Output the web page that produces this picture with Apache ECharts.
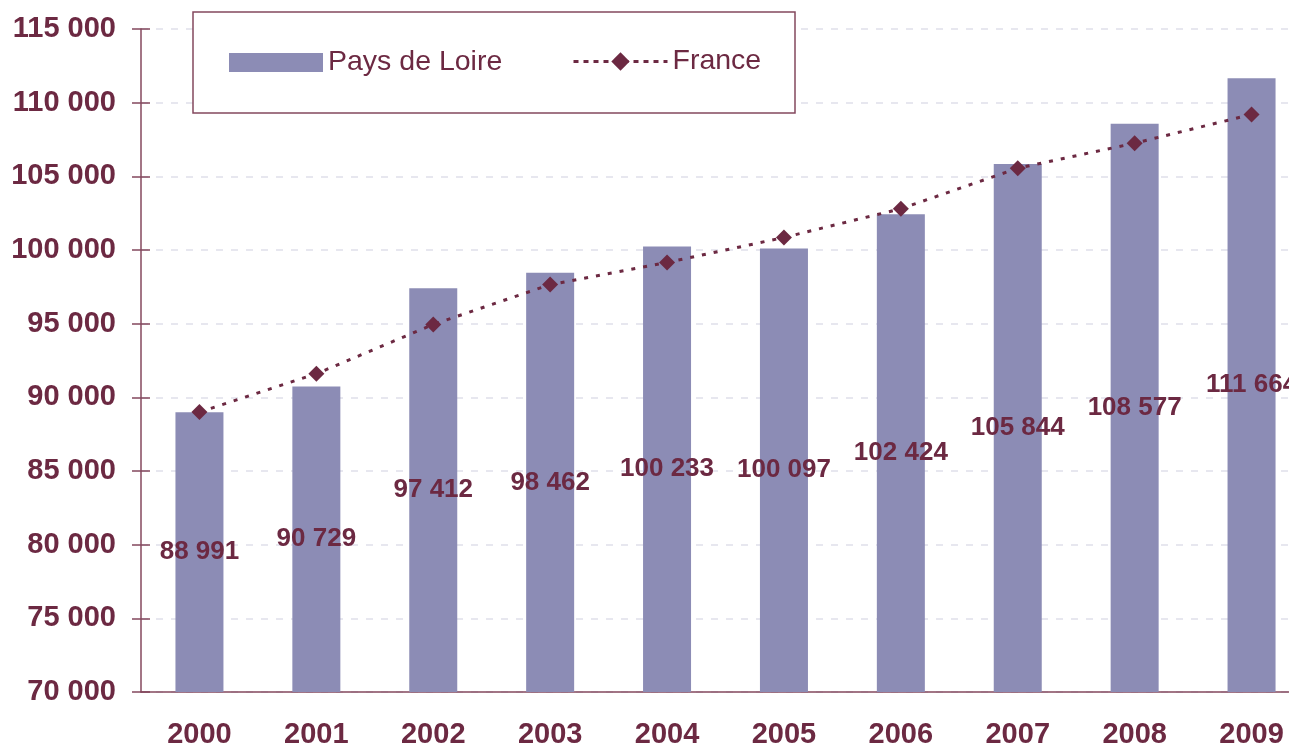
<!DOCTYPE html>
<html>
<head>
<meta charset="utf-8">
<script src="https://cdn.jsdelivr.net/npm/echarts@6/dist/echarts.min.js"></script>
<style>
  html, body { margin: 0; padding: 0; background: #fff; }
  #chart { width: 1289px; height: 747px; }
</style>
</head>
<body>
<div id="chart"></div>
<script>
const years = ["2000", "2001", "2002", "2003", "2004", "2005", "2006", "2007", "2008", "2009"];
const paysDeLoire = [88991, 90729, 97412, 98462, 100233, 100097, 102424, 105844, 108577, 111664];
const france = [89000, 91600, 94950, 97650, 99150, 100850, 102800, 105550, 107250, 109200];
const yMin = 70000;
const yMax = 115000;
const yStep = 5000;

const maroon = "#6c2942";
const axisCol = "#84485e";

function spaced(v) {
  return String(v).replace(/\B(?=(\d{3})+(?!\d))/g, " ");
}

let myChart = echarts.init(document.getElementById("chart"));
myChart.setOption({
  animation: false,
  textStyle: { fontFamily: "Liberation Sans, Arial, sans-serif" },
  grid: { left: 141, right: -21, top: 29, bottom: 55, outerBoundsMode: "none" },
  graphic: [
    {
      type: "rect",
      z: 3,
      shape: { x: 193, y: 12, width: 602, height: 101 },
      style: { fill: "#fff", stroke: axisCol, lineWidth: 1.5 }
    }
  ],
  legend: [
    {
      left: 229,
      top: 48,
      padding: 0,
      itemWidth: 94,
      itemHeight: 19,
      textStyle: { color: maroon, fontSize: 28.5 },
      data: [{ name: "Pays de Loire", icon: "rect" }]
    },
    {
      left: 572,
      top: 47,
      padding: 0,
      itemWidth: 94,
      itemHeight: 23,
      lineStyle: { width: 3, type: [5, 5] },
      textStyle: { color: maroon, fontSize: 28.5 },
      data: ["France"]
    }
  ],
  xAxis: [
    {
      type: "category",
      data: years,
      axisLine: { lineStyle: { color: axisCol, width: 1.5 } },
      axisTick: { length: 9, lineStyle: { color: axisCol, width: 1.5 } },
      axisLabel: { color: maroon, fontSize: 29, fontWeight: "bold", margin: 28 }
    },
    {
      type: "category",
      data: years,
      position: "bottom",
      axisLine: { show: false },
      axisTick: { inside: true, length: 9, lineStyle: { color: axisCol, width: 1.5 } },
      axisLabel: { show: false }
    }
  ],
  yAxis: [
    {
      type: "value",
      min: yMin,
      max: yMax,
      interval: yStep,
      axisLine: { show: true, lineStyle: { color: axisCol, width: 1.5 } },
      axisTick: { show: true, length: 9, lineStyle: { color: axisCol, width: 1.5 } },
      axisLabel: { color: maroon, fontSize: 29, fontWeight: "bold", margin: 25, formatter: spaced },
      splitLine: { lineStyle: { color: "#dfdfea", width: 1.5, type: [7, 8] } }
    },
    {
      type: "value",
      min: yMin,
      max: yMax,
      interval: yStep,
      position: "left",
      axisLine: { show: false },
      axisTick: { show: true, inside: true, length: 9, lineStyle: { color: axisCol, width: 1.5 } },
      axisLabel: { show: false },
      splitLine: { show: false }
    }
  ],
  series: [
    {
      name: "Pays de Loire",
      type: "bar",
      barWidth: 48,
      itemStyle: { color: "#8c8cb5" },
      label: {
        show: true,
        position: "inside",
        color: maroon,
        fontSize: 26,
        fontWeight: "bold",
        formatter: p => spaced(p.value)
      },
      data: paysDeLoire
    },
    {
      name: "France",
      type: "line",
      symbol: "diamond",
      symbolSize: 16,
      itemStyle: { color: maroon },
      lineStyle: { color: maroon, width: 3, type: [4, 8] },
      z: 3,
      data: france
    }
  ]
});
</script>
</body>
</html>
